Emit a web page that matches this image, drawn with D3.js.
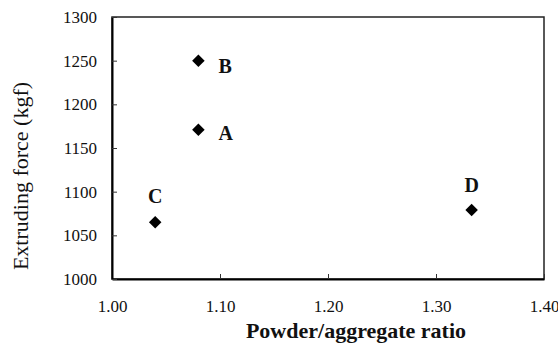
<!DOCTYPE html>
<html>
<head>
<meta charset="utf-8">
<script src="https://cdn.jsdelivr.net/npm/d3@7"></script>
<style>
body { margin: 0; background: #fff; }
text { font-family: "Liberation Serif", "Times New Roman", serif; fill: #111; }
</style>
</head>
<body>
<div id="chart"></div>
<script>
// data
let labels = ['A', 'B', 'C', 'D'];
let ratio = [1.08, 1.08, 1.04, 1.333];
let force = [1171, 1250, 1065, 1079];
let xTicks = [1.00, 1.10, 1.20, 1.30, 1.40];
let yTicks = [1000, 1050, 1100, 1150, 1200, 1250, 1300];

let margin = ({top: 17, right: 14, bottom: 70, left: 112});
let width = 558 - margin.left - margin.right;
let height = 349 - margin.top - margin.bottom;

let svg = d3.select('#chart').append('svg')
    .attr('width', 558)
    .attr('height', 349)
    .append('g')
    .attr('transform', `translate(${margin.left}, ${margin.top})`);

let x = d3.scaleLinear().domain([1.0, 1.4]).range([0, width]);
let y = d3.scaleLinear().domain([1000, 1300]).range([height, 0]);

// frame
svg.append('rect')
    .attr('width', width)
    .attr('height', height)
    .attr('fill', 'none')
    .attr('stroke', '#222')
    .attr('stroke-width', 1.5);

let xAxis = svg.append('g')
    .attr('transform', `translate(0, ${height})`)
    .call(d3.axisBottom(x).tickValues(xTicks).tickFormat(d3.format('.2f')).tickSizeInner(-5).tickSizeOuter(0).tickPadding(21));

let yAxis = svg.append('g')
    .call(d3.axisLeft(y).tickValues(yTicks).tickFormat(d3.format('d')).tickSizeInner(-5).tickSizeOuter(0).tickPadding(15));

[xAxis, yAxis].forEach(a => {
    a.select('.domain').attr('stroke', '#000').attr('stroke-width', 2);
    a.selectAll('.tick line').attr('stroke', '#333');
    a.selectAll('.tick text')
        .style('font-family', '"Liberation Serif", serif')
        .style('font-size', '17px')
        .attr('fill', '#222');
});

let pts = labels.map((l, i) => ({label: l, x: ratio[i], y: force[i]}));

svg.selectAll('.pt')
    .data(pts)
    .enter().append('path')
    .attr('class', 'pt')
    .attr('d', d3.symbol().type(d3.symbolDiamond2).size(100))
    .attr('transform', d => `translate(${x(d.x)}, ${y(d.y)})`)
    .attr('fill', '#000');

// label offsets: A and B to the right, C and D above
let offs = {A: [20, 10], B: [20, 12], C: [0, -19], D: [0, -18]};
svg.selectAll('.lbl')
    .data(pts)
    .enter().append('text')
    .attr('class', 'lbl')
    .attr('x', d => x(d.x) + offs[d.label][0])
    .attr('y', d => y(d.y) + offs[d.label][1])
    .attr('text-anchor', d => offs[d.label][0] > 0 ? 'start' : 'middle')
    .style('font-size', '20px')
    .style('font-weight', 'bold')
    .text(d => d.label);

svg.append('text')
    .attr('x', 244)
    .attr('y', height + 59)
    .attr('text-anchor', 'middle')
    .style('font-size', '22px')
    .style('font-weight', 'bold')
    .text('Powder/aggregate ratio');

svg.append('text')
    .attr('transform', `translate(${-84}, ${height / 2 + 28}) rotate(-90)`)
    .attr('text-anchor', 'middle')
    .style('font-size', '22px')
    .text('Extruding force (kgf)');
</script>
</body>
</html>
